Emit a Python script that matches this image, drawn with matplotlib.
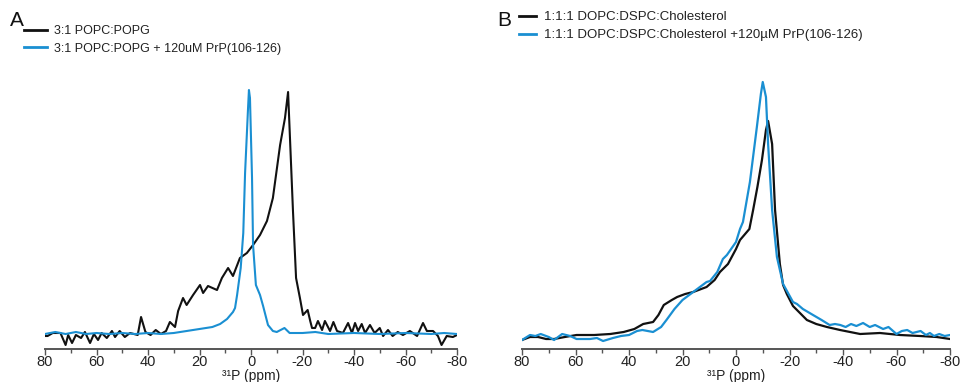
import matplotlib
matplotlib.use("Agg")
import matplotlib.pyplot as plt
import numpy as np

plt.rcParams['font.family'] = ['Liberation Sans', 'DejaVu Sans']

# ---- panel A : 3:1 POPC:POPG (ppm, intensity a.u.) ----
a_black_ppm = [80, 79, 77, 74, 72, 71, 69.5, 68, 66, 64.5, 62.5, 61, 59.4, 58, 56, 54, 52.8, 51, 49, 47,
               44, 42.7, 41, 39, 37, 35, 33, 31.5, 29.5, 28.3, 26.4, 25, 22.5, 19.8, 18.6, 16.7, 13.2, 11.3,
               8.9, 7, 4.3, 1.6, -0.8, -3.5, -6.2, -8.5, -11.3, -13.2, -14.4, -16.3, -17.5, -19, -20.2, -22,
               -23, -23.7, -24.9, -26, -27.6, -28.7, -30.7, -32, -33.4, -35.7, -37.7, -39.2, -40.4, -41.6,
               -43, -44.3, -46.2, -48, -50, -51.3, -53.2, -55, -57, -59, -61.7, -64.5, -66.8, -68.3, -70.7,
               -72.6, -74, -76, -78.4, -80]
a_black_int = [12, 12, 15, 15, 3, 13, 5, 13, 10, 16, 5, 14, 8, 15, 10, 17, 11, 17, 11, 15,
               13, 31, 16, 13, 18, 14, 17, 26, 21, 37, 50, 43, 53, 63, 55, 62, 58, 70,
               80, 72, 90, 95, 103, 113, 127, 150, 203, 230, 256, 137, 70, 50, 33, 38,
               27, 20, 20, 27, 18, 27, 17, 26, 17, 15, 25, 15, 25, 17,
               24, 15, 23, 15, 20, 12, 18, 12, 16, 13, 17, 12, 25, 17, 17,
               12, 3, 12, 11, 13]

a_blue_ppm = [80, 76, 72, 68, 64, 60, 55, 50, 45, 40, 35, 30, 25, 20, 15, 12, 9.3, 7, 6.2, 5.4, 4, 3,
              2.3, 1.2, 0.8, 0.4, -0.4, -0.8, -1.9, -3.5, -4.7, -6.6, -8.5, -10, -13, -15, -20, -25,
              -30, -40, -50, -60, -70, -75, -80]
a_blue_int = [14, 16, 14, 16, 14, 15, 14, 15, 14, 15, 14, 15, 17, 19, 21, 24, 29, 36, 40, 53, 80, 115,
              175, 237, 258, 250, 170, 103, 63, 53, 42, 23, 17, 16, 20, 15, 15, 16,
              14, 15, 14, 15, 14, 15, 14]

# ---- panel B : 1:1:1 DOPC:DSPC:Cholesterol ----
b_black_ppm = [80, 77, 74, 71, 68, 64, 59.6, 53, 47, 42, 38, 34.7, 31, 29, 27, 24, 22, 19, 16, 13, 11,
               8, 6, 3, 0, -1.5, -5, -6.4, -8, -9.7, -11.2, -12, -13.5, -14.6, -16.4, -17.6, -19, -21.3,
               -26.5, -30, -34, -38.9, -46.4, -53.8, -61.3, -68.8, -75, -80]
b_black_int = [8, 11, 11, 9, 9, 11, 13, 13, 14, 16, 19, 24, 26, 33, 43, 48, 51, 54, 56, 59, 61,
               68, 76, 84, 99, 108, 119, 138, 161, 188, 218, 227, 204, 138, 84, 63, 54, 42,
               28, 24, 21, 18, 14, 15, 13, 12, 11, 9]

b_blue_ppm = [80, 77, 75, 73, 70, 68, 65, 62, 59.6, 57, 54.6, 52, 49.7, 46, 43, 40, 37, 35, 33, 31, 28,
              26, 23, 20, 17, 13.5, 11, 9.7, 7, 4.9, 3.4, 0, -1.5, -2.6, -5.2, -7.8, -9.3, -10, -11.2,
              -12, -13.5, -15.3, -17.6, -21.3, -22.8, -25, -28.8, -32, -35, -37, -39, -41, -43, -45,
              -47.5, -50, -52, -55, -57, -60, -62, -64, -66, -69, -71, -72.5, -74, -76, -78, -80]
b_blue_int = [8, 13, 12, 14, 11, 8, 14, 12, 9, 9, 9, 10, 7, 10, 12, 13, 17, 18, 17, 16, 21,
              28, 39, 48, 54, 61, 66, 67, 76, 89, 93, 106, 119, 126, 166, 221, 254, 266, 251,
              204, 138, 91, 64, 46, 44, 39, 33, 28, 23, 24, 23, 21, 24, 22,
              25, 21, 23, 19, 21, 14, 17, 18, 15, 17, 13, 15, 12, 14, 12, 13]

labels_a = ['3:1 POPC:POPG', '3:1 POPC:POPG + 120uM PrP(106-126)']
labels_b = ['1:1:1 DOPC:DSPC:Cholesterol', '1:1:1 DOPC:DSPC:Cholesterol +120µM PrP(106-126)']
xticks = [80, 60, 40, 20, 0, -20, -40, -60, -80]

BLACK = '#111111'
BLUE = '#1a8fd2'

fig = plt.figure(figsize=(9.61, 3.82), dpi=100)
W, H = 961, 382


def make_ax(left, right, bottom, top):
    return fig.add_axes([left / W, 1 - bottom / H, (right - left) / W, (bottom - top) / H])


axA = make_ax(45, 457, 349, 80)
axB = make_ax(522, 950, 349, 80)

axA.plot(a_black_ppm, a_black_int, color=BLACK, lw=1.5, label=labels_a[0])
axA.plot(a_blue_ppm, a_blue_int, color=BLUE, lw=1.5, label=labels_a[1])
axB.plot(b_black_ppm, b_black_int, color=BLACK, lw=1.6, label=labels_b[0])
axB.plot(b_blue_ppm, b_blue_int, color=BLUE, lw=1.6, label=labels_b[1])

for ax in (axA, axB):
    ax.set_xlim(80, -80)
    ax.set_ylim(-1, 268)
    ax.set_yticks([])
    for s in ('left', 'right', 'top'):
        ax.spines[s].set_visible(False)
    ax.spines['bottom'].set_color('#555555')
    ax.spines['bottom'].set_linewidth(1.4)
    ax.set_xticks(xticks)
    ax.set_xticklabels([str(t) for t in xticks])
    ax.set_xticks(np.arange(-70, 80, 20), minor=True)
    ax.tick_params(axis='x', which='major', length=4, width=1, color='#555555',
                   labelsize=10.5, labelcolor='#222222', pad=0.5)
    ax.tick_params(axis='x', which='minor', length=3, width=1, color='#555555')
    ax.set_xlabel('³¹P (ppm)', fontsize=10, color='#222222', labelpad=0)
    ax.patch.set_alpha(0)

legA = axA.legend(loc='upper left', bbox_to_anchor=(24 / W, 1 - 25 / H), bbox_transform=fig.transFigure,
                  frameon=False, fontsize=9, handlelength=1.8, handletextpad=0.6, borderpad=0,
                  borderaxespad=0, labelspacing=0.45)
legB = axB.legend(loc='upper left', bbox_to_anchor=(519 / W, 1 - 11 / H), bbox_transform=fig.transFigure,
                  frameon=False, fontsize=9.5, handlelength=1.3, handletextpad=0.6, borderpad=0,
                  borderaxespad=0, labelspacing=0.45)
for leg in (legA, legB):
    for t in leg.get_texts():
        t.set_color('#222222')
    for l in leg.get_lines():
        l.set_linewidth(2)

fig.text(10 / W, 1 - 20 / H, 'A', fontsize=15, va='center', ha='left', color='#111111')
fig.text(497 / W, 1 - 21 / H, 'B', fontsize=15, va='center', ha='left', color='#111111')

fig.savefig('out.png', dpi=100)
